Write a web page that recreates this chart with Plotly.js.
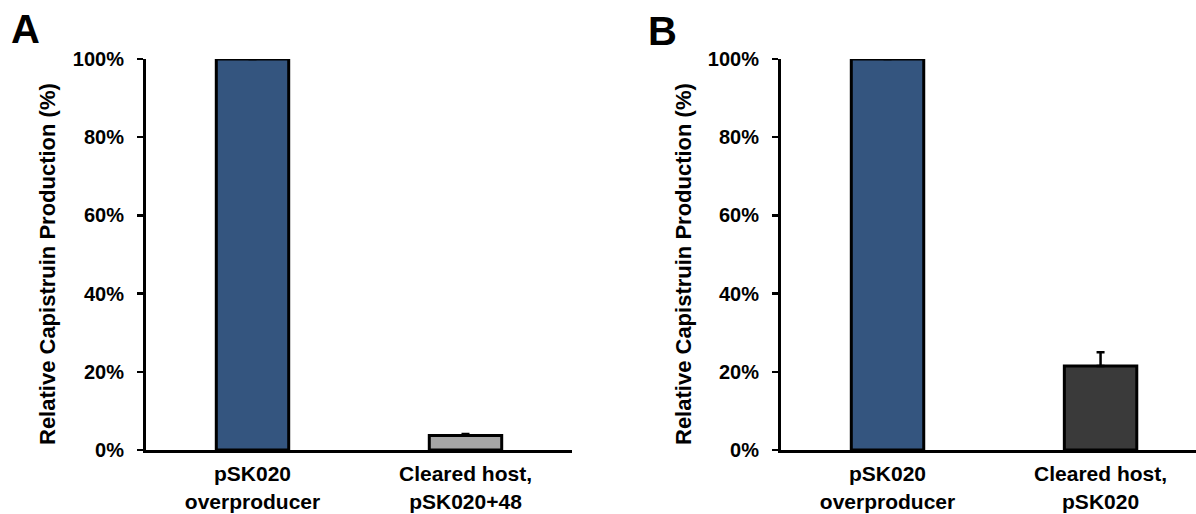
<!DOCTYPE html>
<html>
<head>
<meta charset="utf-8">
<script src="https://cdn.plot.ly/plotly-3.0.1.min.js"></script>
<style>html,body{margin:0;padding:0;background:#fff;}#chart{width:1196px;height:514px;}</style>
</head>
<body>
<div id="chart"></div>
<script>
const categoriesA = ["pSK020<br>overproducer", "Cleared host,<br>pSK020+48"];
const valuesA = [1.00, 0.037];
const errorsA = [0, 0.004];
const colorsA = ["#34557F", "#A6A6A6"];

const categoriesB = ["pSK020<br>overproducer", "Cleared host,<br>pSK020"];
const valuesB = [1.00, 0.215];
const errorsB = [0, 0.035];
const colorsB = ["#34557F", "#3A3A3A"];

const yTitle = "Relative Capistruin Production (%)";
const panelLabels = ["A", "B"];

const W = 1196, H = 514;
const MT = 59, MB = 64;
const fam = "Liberation Sans, Arial, sans-serif";

function barTrace(cats, vals, errs, cols, xa, ya) {
  return {
    type: "bar", x: cats, y: vals, xaxis: xa, yaxis: ya,
    width: 0.34,
    marker: {color: cols, line: {color: "#000", width: 3}},
    error_y: {type: "data", symmetric: false, array: errs, arrayminus: errs.map(() => 0),
              color: "#000", thickness: 2.5, width: 4},
    hoverinfo: "none", showlegend: false
  };
}

const yaxisCommon = {
  range: [0, 1], tickvals: [0, 0.2, 0.4, 0.6, 0.8, 1.0], tickformat: ".0%",
  showgrid: false, zeroline: false, showline: true, linecolor: "#000", linewidth: 3,
  ticks: "outside", ticklen: 6, tickwidth: 2.5, tickcolor: "#000", ticklabelstandoff: 9,
  tickfont: {family: fam, size: 20, color: "#000", weight: "bold"},
  domain: [0, 1], automargin: false, fixedrange: true
};
const xaxisCommon = {
  showgrid: false, zeroline: false, showline: true, linecolor: "#000", linewidth: 3,
  ticks: "", ticklabelstandoff: 3,
  tickfont: {family: fam, size: 21, color: "#000", weight: "bold"},
  automargin: false, fixedrange: true
};

function ann(text, x, y, size, angle) {
  return {text: "<b>" + text + "</b>", xref: "paper", yref: "paper",
          x: x / W, y: (H - MB - y) / (H - MT - MB),
          xanchor: "center", yanchor: "middle", showarrow: false, textangle: angle || 0,
          font: {family: fam, size: size, color: "#000"}};
}

const layout = {
  width: W, height: H,
  margin: {l: 0, r: 0, t: MT, b: MB},
  paper_bgcolor: "#fff", plot_bgcolor: "#fff",
  xaxis: Object.assign({}, xaxisCommon, {domain: [146 / W, 572 / W], range: [-0.5, 1.5], anchor: "y"}),
  yaxis: Object.assign({}, yaxisCommon, {anchor: "x"}),
  xaxis2: Object.assign({}, xaxisCommon, {domain: [781 / W, 1], range: [-0.5, 1.448], anchor: "y2"}),
  yaxis2: Object.assign({}, yaxisCommon, {anchor: "x2"}),
  annotations: [
    ann(panelLabels[0], 25, 29, 40),
    ann(panelLabels[1], 662, 31, 40),
    ann(yTitle, 47, 264, 22, -90),
    ann(yTitle, 683, 264, 22, -90)
  ]
};

Plotly.newPlot("chart", [
  barTrace(categoriesA, valuesA, errorsA, colorsA, "x", "y"),
  barTrace(categoriesB, valuesB, errorsB, colorsB, "x2", "y2")
], layout, {staticPlot: true, displayModeBar: false});
</script>
</body>
</html>
